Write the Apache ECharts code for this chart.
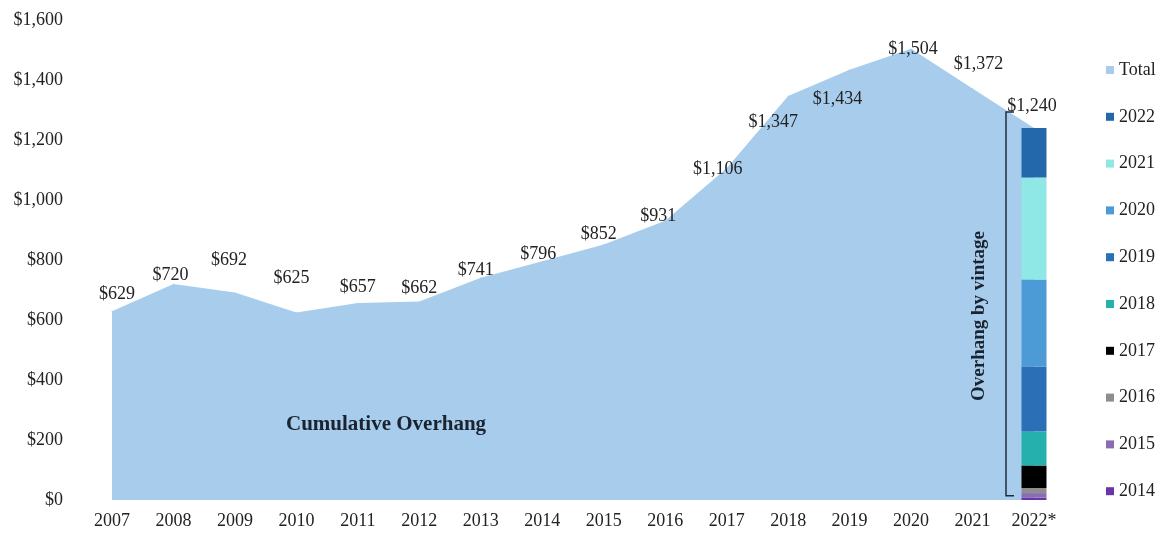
<!DOCTYPE html>
<html>
<head>
<meta charset="utf-8">
<script src="https://cdn.jsdelivr.net/npm/echarts@6/dist/echarts.min.js"></script>
<style>
  html, body { margin: 0; padding: 0; background: #fff; }
  #chart { width: 1160px; height: 533px; }
</style>
</head>
<body>
<div id="chart"></div>
<script>
// data
const years = ['2007', '2008', '2009', '2010', '2011', '2012', '2013', '2014',
  '2015', '2016', '2017', '2018', '2019', '2020', '2021', '2022*']
const total = [629, 720, 692, 625, 657, 662, 741, 796, 852, 931, 1106, 1347, 1434, 1504, 1372, 1240]
const vintages = ['2022', '2021', '2020', '2019', '2018', '2017', '2016', '2015', '2014']
const vintageValues = [165, 340, 290, 217, 113, 75, 17, 15, 8]

// styling
const vintageColors = ['#2368ab', '#8fe8e5', '#4c9bd7', '#2b6fb6', '#25b0ad', '#000000', '#8e8e8e', '#8a6cb4', '#6a35a8']
const areaColor = '#a8cdec'
const font = 'Liberation Serif'
const txt = '#222'
// label nudges [dx, dy] from each point, in px
const labelNudge = [[5, -17], [-3, -9], [-6, -32], [-5, -34], [0, -16], [0, -13], [-5, -7], [-4, -7],
  [-5, -10], [-7, -4], [-9, 1], [-15, 26], [-12, 29], [2, 0], [6, -24], [-2, -22]]

const money = v => '$' + v.toLocaleString('en-US')

let chart = echarts.init(document.getElementById('chart'))

let series = [{
  name: 'Total',
  type: 'line',
  data: total.map((v, i) => ({
    value: v,
    label: { offset: labelNudge[i] }
  })),
  symbol: 'circle',
  symbolSize: 1,
  itemStyle: { color: areaColor },
  lineStyle: { width: 0 },
  areaStyle: { color: areaColor, opacity: 1 },
  z: 1,
  label: {
    show: true,
    position: 'inside',
    formatter: p => money(p.value),
    fontFamily: font,
    fontSize: 18,
    color: txt
  }
}]

// bottom of the stack first
for (let i = vintages.length - 1; i >= 0; i--) {
  series.push({
    name: vintages[i],
    type: 'bar',
    stack: 'vintage',
    barWidth: 25,
    z: 3,
    itemStyle: { color: vintageColors[i] },
    data: years.map((y, j) => j === years.length - 1 ? vintageValues[i] : '-')
  })
}

chart.setOption({
  animation: false,
  grid: { left: 112, right: 126, top: 20, bottom: 33 },
  legend: {
    orient: 'vertical',
    left: 1101,
    top: 56,
    itemWidth: 8,
    itemHeight: 8,
    itemGap: 28.8,
    icon: 'rect',
    data: ['Total'].concat(vintages),
    textStyle: { fontFamily: font, fontSize: 18, color: txt }
  },
  xAxis: {
    type: 'category',
    data: years,
    boundaryGap: false,
    axisLine: { show: false },
    axisTick: { show: false },
    axisLabel: { fontFamily: font, fontSize: 18, color: txt, margin: 12 }
  },
  yAxis: {
    type: 'value',
    min: 0,
    max: 1600,
    interval: 200,
    splitLine: { show: false },
    axisLabel: { formatter: money, fontFamily: font, fontSize: 18, color: txt, margin: 49 }
  },
  series: series
})

// annotations: text labels and bracket beside the 2022* bar
const last = years.length - 1
const bTop = chart.convertToPixel({ gridIndex: 0 }, [last, 1293])
const bBot = chart.convertToPixel({ gridIndex: 0 }, [last, 14])
const bx = bTop[0] - 28
chart.setOption({
  graphic: [
    {
      type: 'text',
      left: 286,
      top: 414,
      z: 100,
      style: { text: 'Cumulative Overhang', fontFamily: font, fontWeight: 'bold', fontSize: 21, fill: '#1a2330' }
    },
    {
      type: 'text',
      x: 979,
      y: 316,
      z: 100,
      rotation: Math.PI / 2,
      style: {
        text: 'Overhang by vintage',
        fontFamily: font,
        fontWeight: 'bold',
        fontSize: 19,
        fill: '#1a2330',
        align: 'center',
        verticalAlign: 'middle'
      }
    },
    {
      type: 'polyline',
      z: 100,
      shape: { points: [[bx + 8, bTop[1]], [bx, bTop[1]], [bx, bBot[1]], [bx + 8, bBot[1]]] },
      style: { stroke: '#1f2d3d', lineWidth: 1.5, fill: null }
    }
  ]
})
</script>
</body>
</html>
